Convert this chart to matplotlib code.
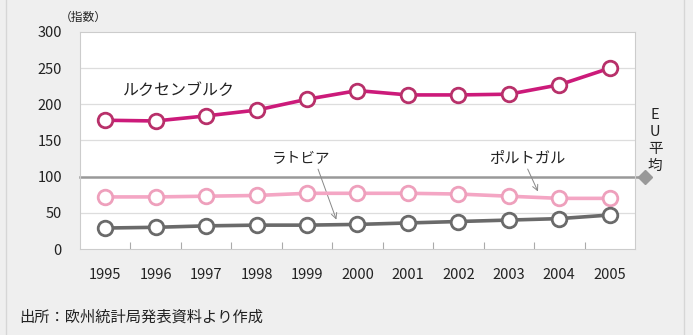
import matplotlib.pyplot as plt
from matplotlib.lines import Line2D

plt.rcParams['font.family'] = ['Noto Sans CJK JP', 'DejaVu Sans']

years = [1995, 1996, 1997, 1998, 1999, 2000, 2001, 2002, 2003, 2004, 2005]
luxembourg = [178, 177, 184, 192, 207, 219, 213, 213, 214, 227, 250]
portugal = [72, 72, 73, 74, 77, 77, 77, 76, 73, 70, 70]
latvia = [29, 30, 32, 33, 33, 34, 36, 38, 40, 42, 47]
eu_average = 100
yticks = [0, 50, 100, 150, 200, 250, 300]

bg = '#efefef'
fig = plt.figure(figsize=(6.93, 3.35), dpi=100, facecolor=bg)
ax = fig.add_axes([0.1154, 0.2567, 0.8009, 0.6478])
ax.set_facecolor('white')

# grid and EU average reference line
for v in yticks[1:-1]:
    if v != eu_average:
        ax.axhline(v, color='#dddddd', lw=0.9, zorder=1)
ax.plot([1994.5, 2005.7], [eu_average, eu_average], color='#999999', lw=1.8,
        zorder=2, clip_on=False)
ax.plot([2005.7], [eu_average], marker='D', color='#999999', ms=7,
        clip_on=False, zorder=3)

mk = dict(marker='o', ms=10.5, mfc='white', mew=2.0, lw=2.6, zorder=4)
ax.plot(years, luxembourg, color='#cc1a7a', mec='#b8306a', **mk)
ax.plot(years, portugal, color='#f4a6c4', mec='#eea0bc', **mk)
ax.plot(years, latvia, color='#6a6a6a', mec='#6a6a6a', **mk)

ax.set_xlim(1994.5, 2005.5)
ax.set_ylim(0, 300)
ax.set_yticks(yticks)
ax.set_xticks(years)
ax.tick_params(axis='both', length=0, labelsize=10.5, colors='#222222')
ax.tick_params(axis='y', pad=13)
ax.tick_params(axis='x', pad=14)
# small ticks between the years
ax.set_xticks([y + 0.5 for y in years[:-1]], minor=True)
ax.tick_params(axis='x', which='minor', direction='in', length=5,
               color='#aaaaaa', width=0.8)
for s in ax.spines.values():
    s.set_color('#cccccc')
    s.set_linewidth(0.8)

tc = '#222222'
ax.text(1995.35, 219, 'ルクセンブルク', fontsize=11.5, color=tc, va='center')
ax.text(1998.3, 125, 'ラトビア', fontsize=10.5, color=tc, va='center')
ax.annotate('', xy=(1999.6, 37), xytext=(1999.2, 114),
            arrowprops=dict(arrowstyle='->', color='#888888', lw=0.7))
ax.text(2002.6, 125, 'ポルトガル', fontsize=11, color=tc, va='center')
ax.annotate('', xy=(2003.6, 76), xytext=(2003.35, 114),
            arrowprops=dict(arrowstyle='->', color='#888888', lw=0.7))
ax.text(2005.9, 150, 'E\nU\n平\n均', fontsize=10.5, color=tc, ha='center',
        va='center', linespacing=1.3)

fig.text(0.086, 0.948, '（指数）', fontsize=8.5, color=tc, va='center')
fig.text(0.028, 0.054, '出所：欧州統計局発表資料より作成', fontsize=11,
         color=tc, va='center')

# thin frame lines at the edges
fig.add_artist(Line2D([0.008, 0.008], [0, 1], color='#d6d6d6', lw=1))
fig.add_artist(Line2D([0.987, 0.987], [0, 1], color='#d6d6d6', lw=1))

fig.savefig('out.png', dpi=100, facecolor=bg)
